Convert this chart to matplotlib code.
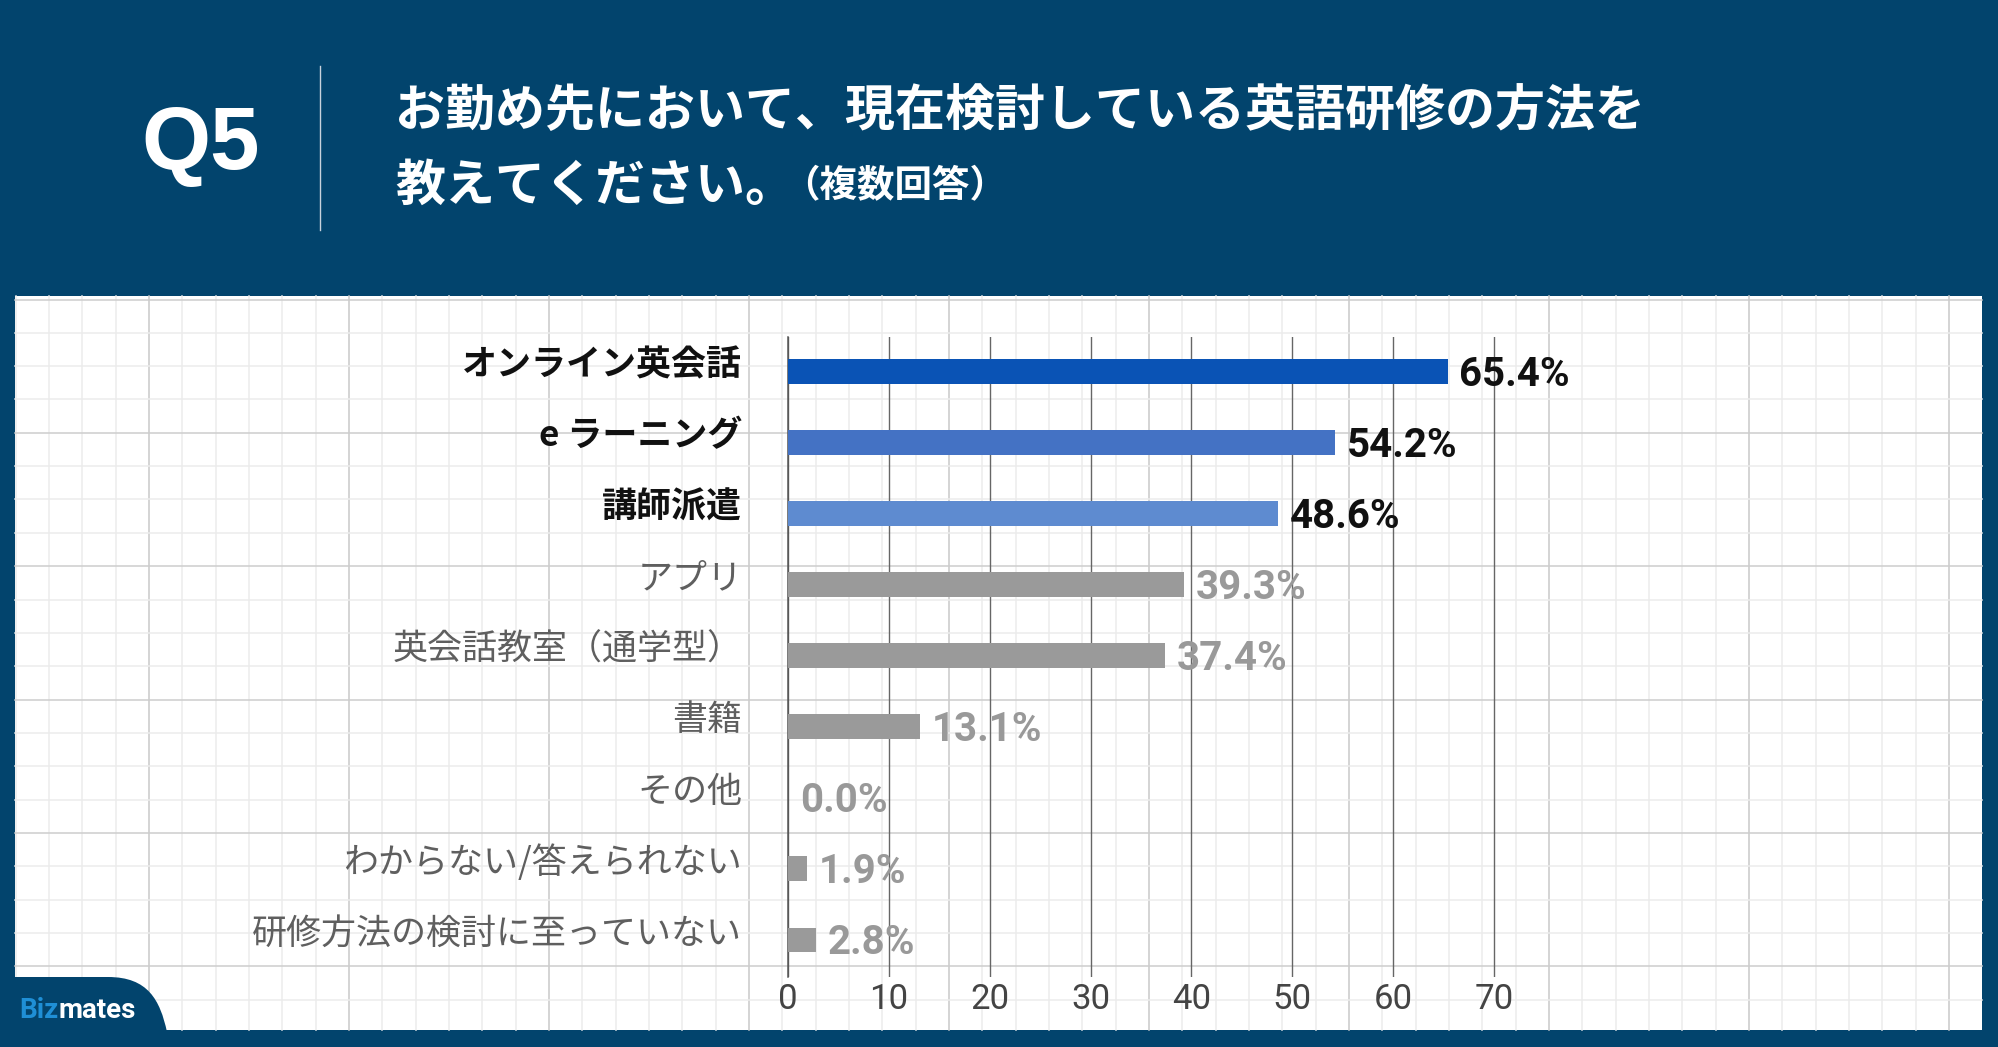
import matplotlib
matplotlib.use("Agg")
import matplotlib.pyplot as plt
import matplotlib.patches as patches
from matplotlib.path import Path

plt.rcParams['font.family'] = ['Noto Sans CJK JP', 'DejaVu Sans']

# data
categories = ['オンライン英会話', 'e ラーニング', '講師派遣', 'アプリ', '英会話教室（通学型）',
              '書籍', 'その他', 'わからない/答えられない', '研修方法の検討に至っていない']
values = [65.4, 54.2, 48.6, 39.3, 37.4, 13.1, 0.0, 1.9, 2.8]
bar_colors = ['#0a53b5', '#4472c4', '#5e8bd0', '#9a9a9a', '#9a9a9a', '#9a9a9a', '#9a9a9a', '#9a9a9a', '#9a9a9a']
label_colors = ['#111111', '#111111', '#111111', '#5f5f5f', '#5f5f5f', '#5f5f5f', '#5f5f5f', '#5f5f5f', '#5f5f5f']
value_colors = ['#111111', '#111111', '#111111', '#999999', '#999999', '#999999', '#999999', '#999999', '#999999']
label_weights = ['bold', 'bold', 'bold', 'normal', 'normal', 'normal', 'normal', 'normal', 'normal']
xticks = [0, 10, 20, 30, 40, 50, 60, 70]

title_q = 'Q5'
title_line1 = 'お勤め先において、現在検討している英語研修の方法を'
title_line2 = '教えてください。'
title_note = '（複数回答）'

NAVY = '#02446d'
W, H = 1999, 1047

fig = plt.figure(figsize=(W / 100, H / 100), dpi=100)

# background drawn in pixel coords
bg = fig.add_axes([0, 0, 1, 1])
bg.set_xlim(0, W)
bg.set_ylim(H, 0)
bg.axis('off')
bg.add_patch(patches.Rectangle((0, 0), W, H, facecolor=NAVY, edgecolor='none'))

px0, px1, py0, py1 = 15, 1982, 296, 1030
bg.add_patch(patches.Rectangle((px0, py0), px1 - px0, py1 - py0, facecolor='white', edgecolor='none'))

# graph paper pattern
step = 200 / 6
k = 0
x = 149 - step * 4
while x < px1:
    if x > px0:
        dark = (k % 6 == 4)
        bg.plot([x, x], [py0, py1], color='#c9c9c9' if dark else '#ececec', lw=1.1, zorder=1)
    x += step
    k += 1
k = 0
y = 299.5
while y < py1:
    dark = (k % 4 == 0)
    bg.plot([px0, px1], [y, y], color='#cdcdcd' if dark else '#ececec', lw=1.1, zorder=1)
    y += step
    k += 1

# header
bg.text(201, 146, title_q, color='white', fontsize=64, fontweight='bold',
        family=['Liberation Sans', 'DejaVu Sans'], ha='center', va='center')
bg.plot([320, 320], [66, 230], color='#c8d2dc', lw=1)
bg.text(395, 112, title_line1, color='white', fontsize=36, fontweight='bold', ha='left', va='center')
t2 = bg.text(395, 186, title_line2, color='white', fontsize=36, fontweight='bold', ha='left', va='center')
bg.annotate(title_note, xy=(1, 0.5), xycoords=t2, xytext=(-9, 0), textcoords='offset points',
            color='white', fontsize=27, fontweight='bold', ha='left', va='center')

# logo
verts = [(0, 977), (108, 977), (148, 977), (160, 1000), (167, 1032), (0, 1032), (0, 977)]
codes = [Path.MOVETO, Path.LINETO, Path.CURVE4, Path.CURVE4, Path.CURVE4, Path.LINETO, Path.CLOSEPOLY]
bg.add_patch(patches.PathPatch(Path(verts, codes), facecolor=NAVY, edgecolor='none', zorder=3))
tb = bg.text(19, 1011, 'Biz', color='#1f8fd6', fontsize=20, fontweight='bold',
             family=['Roboto', 'DejaVu Sans'], ha='left', va='center', zorder=4)
bg.annotate('mates', xy=(1, 0.5), xycoords=tb, color='white', fontsize=20, fontweight='bold',
            family=['Roboto', 'DejaVu Sans'], ha='left', va='center', zorder=4)

# chart
ax_l, ax_t, ax_b = 788, 337, 977
unit = (1494 - 788) / 70
xmax = 75
ax = fig.add_axes([ax_l / W, 1 - ax_b / H, xmax * unit / W, (ax_b - ax_t) / H])
ax.patch.set_visible(False)

ypos = list(range(len(categories)))
bars = ax.barh(ypos, values, height=0.35, color=bar_colors, zorder=3)
ax.set_xlim(0, xmax)
ax.set_ylim(len(categories) - 0.48, -0.48)

for s in ['top', 'right', 'bottom']:
    ax.spines[s].set_visible(False)
ax.spines['left'].set_color('#555555')
ax.spines['left'].set_linewidth(1.1)

ax.set_xticks(xticks)
ax.set_xticklabels([str(v) for v in xticks], family=['Roboto', 'DejaVu Sans'], fontsize=25, color='#444444')
ax.tick_params(axis='x', length=0, pad=4)
ax.xaxis.grid(True, color='#666666', lw=1.0, zorder=0)

ax.set_yticks(ypos)
ax.set_yticklabels([])
ax.tick_params(axis='y', length=0)
for yp, name, c, w in zip(ypos, categories, label_colors, label_weights):
    ax.annotate(name, xy=(0, yp), xycoords=('axes fraction', 'data'), xytext=(-33, 4.5),
                textcoords='offset points', ha='right', va='center', fontsize=25.2,
                color=c, fontweight=w)

for yp, v, c in zip(ypos, values, value_colors):
    ax.annotate(f'{v:.1f}%', xy=(v, yp), xytext=(8.5, -2.5), textcoords='offset points',
                ha='left', va='center', fontsize=29, fontweight='bold',
                family=['Roboto', 'DejaVu Sans'], color=c, zorder=4)

fig.savefig('out.png', dpi=100)
